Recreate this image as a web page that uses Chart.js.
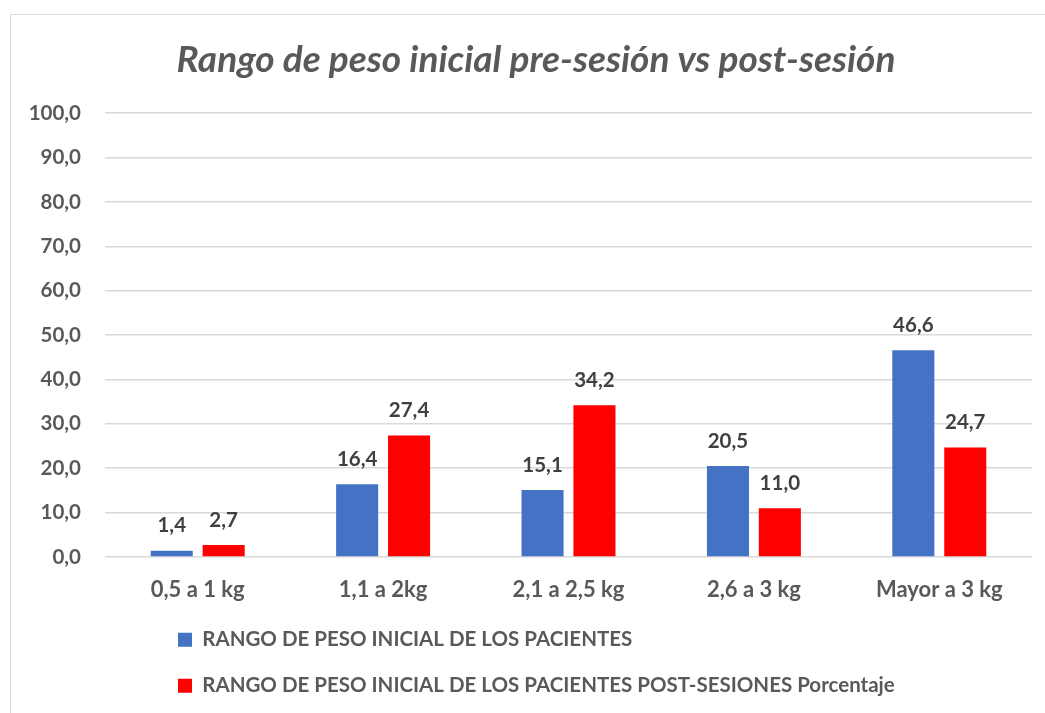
<!DOCTYPE html>
<html>
<head>
<meta charset="utf-8">
<script src="https://cdn.jsdelivr.net/npm/chart.js@4"></script>
<style>
  html, body { margin: 0; padding: 0; background: #fff; }
  #wrap { width: 1045px; height: 713px; position: relative; }
</style>
</head>
<body>
<div id="wrap"><canvas id="myChart"></canvas></div>
<script>
var categories = ['0,5 a 1 kg', '1,1 a 2kg', '2,1 a 2,5 kg', '2,6 a 3 kg', 'Mayor a 3 kg'];
var preSesion = [1.4, 16.4, 15.1, 20.5, 46.6];
var postSesion = [2.7, 27.4, 34.2, 11.0, 24.7];
var seriesNames = ['RANGO DE PESO INICIAL DE LOS PACIENTES', 'RANGO DE PESO INICIAL DE LOS PACIENTES POST-SESIONES Porcentaje'];

var fmt = function (v) { return Number(v).toFixed(1).replace('.', ','); };
var FONT = 'Lato, "Open Sans", sans-serif';

// frame around the chart, like the spreadsheet chart border
var framePlugin = {
    id: 'frame',
    beforeDraw: function (chart) {
        var c = chart.ctx;
        c.save();
        c.fillStyle = '#fff';
        c.fillRect(0, 0, chart.width, chart.height);
        c.strokeStyle = '#d9d9d9';
        c.lineWidth = 1;
        c.strokeRect(10.5, 14.5, 1040, 720);
        c.restore();
    }
};

// value labels above each bar
var barLabels = {
    id: 'barLabels',
    afterDatasetsDraw: function (chart) {
        var c = chart.ctx;
        c.save();
        c.font = 'bold 20.5px ' + FONT;
        c.fillStyle = '#404040';
        c.textAlign = 'center';
        c.textBaseline = 'middle';
        chart.data.datasets.forEach(function (ds, i) {
            chart.getDatasetMeta(i).data.forEach(function (bar, j) {
                c.fillText(fmt(ds.data[j]), bar.x, bar.y - 25);
            });
        });
        c.restore();
    }
};

// legend sits left-aligned under the plot, title centred over the plot
var layoutShift = {
    id: 'layoutShift',
    afterLayout: function (chart) {
        chart.legend.left = 152.5;
        chart.titleBlock.left += 20;
        chart.titleBlock.right += 20;
    }
};

var ctx = document.getElementById('myChart').getContext('2d');
var myChart = new Chart(ctx, {
    type: 'bar',
    data: {
        labels: categories,
        datasets: [{
            label: seriesNames[0],
            data: preSesion,
            backgroundColor: '#4472c4',
            categoryPercentage: 0.56,
            barPercentage: 0.81
        },
        {
            label: seriesNames[1],
            data: postSesion,
            backgroundColor: '#ff0000',
            categoryPercentage: 0.56,
            barPercentage: 0.81
        }]
    },
    options: {
        responsive: true,
        maintainAspectRatio: false,
        animation: false,
        layout: { padding: { left: 0, right: 13, top: 0, bottom: 7 } },
        plugins: {
            title: {
                display: true,
                text: 'Rango de peso inicial pre-sesión vs post-sesión',
                color: '#595959',
                font: { family: FONT, size: 37, style: 'italic', weight: 'bold', lineHeight: 1.2 },
                padding: { top: 37.8, bottom: 31 }
            },
            legend: {
                position: 'bottom',
                align: 'start',
                labels: {
                    color: '#595959',
                    font: { family: FONT, size: 20.5, weight: 'bold' },
                    boxWidth: 14,
                    boxHeight: 14,
                    padding: 25.5
                }
            },
            tooltip: { enabled: false }
        },
        scales: {
            x: {
                grid: { display: false },
                border: { display: false },
                ticks: {
                    color: '#595959',
                    font: { family: FONT, size: 22, weight: 'bold' },
                    padding: 12
                },
                afterFit: function (s) { s.height = 47; }
            },
            y: {
                min: 0,
                max: 100,
                grid: { color: '#d9d9d9', lineWidth: 1.5, drawTicks: false },
                border: { display: false },
                ticks: {
                    stepSize: 10,
                    color: '#595959',
                    font: { family: FONT, size: 20.5, weight: 'bold' },
                    padding: 24,
                    callback: function (v) { return fmt(v); }
                },
                afterFit: function (s) { s.width = 105; }
            }
        }
    },
    plugins: [framePlugin, barLabels, layoutShift]
});
</script>
</body>
</html>
